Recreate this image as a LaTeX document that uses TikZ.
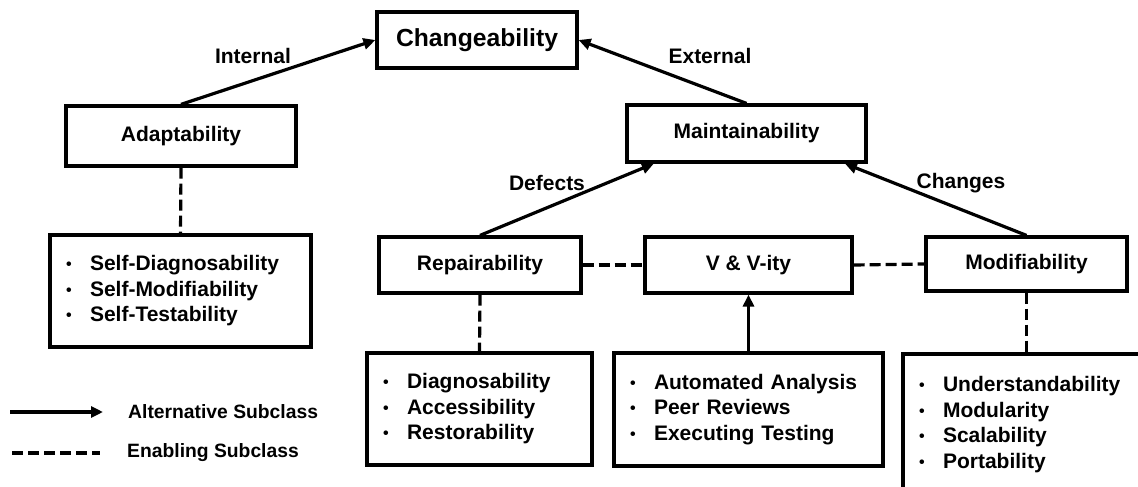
\documentclass[tikz,border=0pt]{standalone}
\usepackage{fontspec}
\setmainfont{Liberation Sans}
\usetikzlibrary{arrows.meta, positioning}

\newcommand{\bul}{\makebox[24pt][l]{\raisebox{1pt}{\fontsize{16}{16}\selectfont\textbullet}}}

\begin{document}
\begin{tikzpicture}[x=1pt, y=-1pt, every node/.style={font=\bfseries\fontsize{21}{25.5}\selectfont}]
    % Define styles
    \tikzstyle{attrbox} = [rectangle, draw=black, line width=3.2pt, text centered, minimum height=56pt]
    \tikzstyle{listbox} = [rectangle, draw=black, line width=3.2pt, align=left, inner xsep=16pt]
    \tikzstyle{edgelabel} = [inner sep=0pt]
    \tikzstyle{legendtext} = [anchor=west, inner sep=0pt, font=\bfseries\fontsize{19.3}{22}\selectfont]
    \tikzstyle{altarrow} = [line width=3.2pt, -{Triangle[length=12pt, width=11pt]}]
    \tikzstyle{enabling} = [line width=3.2pt, dash pattern=on 11pt off 5pt]

    % Page frame
    \useasboundingbox (0, 0) rectangle (1138, 487);
    \clip (0, 0) rectangle (1138, 487);

    % Top: Changeability
    \node (change) [attrbox, minimum width=200pt, font=\bfseries\fontsize{24.7}{28}\selectfont] at (477, 40) {Changeability};

    % Second level
    \node (adapt) [attrbox, minimum width=230pt, minimum height=60pt] at (181, 136) {Adaptability};
    \node (maint) [attrbox, minimum width=239pt, minimum height=57pt] at (746.5, 133.5) {Maintainability};

    % Third level
    \node (repair) [attrbox, minimum width=202pt] at (480, 265) {Repairability};
    \node (vv) [attrbox, minimum width=207pt] at (748.5, 265) {V \& V-ity};
    \node (modif) [attrbox, minimum width=201pt, minimum height=54pt] at (1026.5, 264) {Modifiability};

    % Lists of sub-attributes
    \node (selflist) [listbox, text width=229pt, minimum height=112pt] at (180.5, 291) {
        \bul Self-Diagnosability\\
        \bul Self-Modifiability\\
        \bul Self-Testability};
    \node (repairlist) [listbox, text width=193pt, minimum height=112pt] at (479.5, 409) {
        \bul Diagnosability\\
        \bul Accessibility\\
        \bul Restorability};
    \node (vvlist) [listbox, text width=237pt, minimum height=113pt] at (748.5, 409.5) {
        \bul Automated Analysis\\
        \bul Peer Reviews\\
        \bul Executing Testing};
    \node (modiflist) [listbox, text width=210pt, minimum height=141pt] at (1024, 424.5) {
        \bul Understandability\\
        \bul Modularity\\
        \bul Scalability\\
        \bul Portability};

    % Arrows to the parents
    \draw [altarrow] (adapt.north) -- (change.west);
    \draw [altarrow] (maint.north) -- (change.east);
    \draw [altarrow] (repair.north) -- (maint.198);
    \draw [altarrow] (modif.north) -- (maint.-17);
    \draw [altarrow] (vvlist.north) -- (vv.south);

    % Enabling links
    \draw [enabling] (adapt.south) -- (selflist.north);
    \draw [enabling] (repair.south) -- (repairlist.north);
    \draw [enabling] (modif.south) -- (modiflist.north -| modif.south);
    \draw [enabling] (repair.east) -- (vv.west);
    \draw [enabling] (vv.east) -- (modif.west);

    % Labels on the arrows
    \node (internal) [edgelabel] at (253, 56) {Internal};
    \node (external) [edgelabel] at (710, 56) {External};
    \node (defects) [edgelabel] at (547, 183) {Defects};
    \node (changes) [edgelabel] at (961, 183) {Changes};

    % Legend
    \coordinate (altstart) at (10, 412);
    \coordinate (altend) at (103, 412);
    \coordinate (enstart) at (12, 453);
    \coordinate (enend) at (100, 453);
    \draw [altarrow] (altstart) -- (altend);
    \draw [enabling] (enstart) -- (enend);
    \node (alttext) [legendtext] at (128, 412) {Alternative Subclass};
    \node (entext) [legendtext] at (127, 453) {Enabling Subclass};
\end{tikzpicture}
\end{document}
